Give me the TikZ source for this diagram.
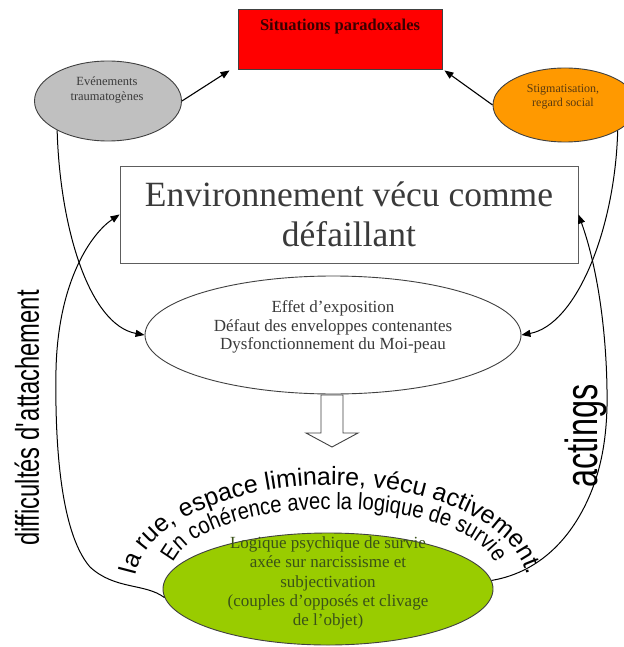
\documentclass[tikz,border=0pt]{standalone}
\usepackage{fontspec}
\setmainfont{Liberation Serif}
\newfontfamily\wafont{Liberation Sans}
\newfontfamily\wacond[FakeStretch=0.86]{Liberation Sans}
\newfontfamily\wanarrow[FakeStretch=0.72]{Liberation Sans}
\usetikzlibrary{shapes.geometric,arrows.meta,decorations.text,calc}
\definecolor{boxred}{HTML}{FF0000}
\definecolor{ellgray}{HTML}{C0C0C0}
\definecolor{ellorange}{HTML}{FF9900}
\definecolor{ellgreen}{HTML}{99CC00}
\definecolor{edge}{HTML}{404040}
\definecolor{txtgray}{HTML}{3A3A3A}
\definecolor{txtbrown}{HTML}{5A3A10}
\definecolor{txtgreen}{HTML}{3A5218}
\definecolor{txtred}{HTML}{3A0000}
\begin{document}
\begin{tikzpicture}[x=1pt,y=-1pt,
  shapeline/.style={draw=edge, line width=0.9pt},
  ell/.style={ellipse, shapeline, inner sep=0pt},
  arr/.style={-{Triangle[length=9pt,width=7pt]}, line width=1.1pt, black},
  curv/.style={-{Triangle[length=9pt,width=7pt]}, line width=1pt, black},
  serif/.style={align=center, inner sep=0pt},
]
\useasboundingbox (0,0) rectangle (623,647);

% top red box
\node[rectangle, shapeline, fill=boxred, minimum width=204pt, minimum height=60pt, inner sep=0pt] (sit) at (340,39) {};
\node[serif, text=txtred, font=\fontsize{16.5}{18}\selectfont\bfseries] (sittxt) at (340,27) {Situations paradoxales};

% gray ellipse
\node[ell, fill=ellgray, minimum width=147pt, minimum height=80pt] (ev) at (108,101) {};
\node[serif, text=txtgray, font=\fontsize{12.5}{14.5}\selectfont] (evtxt) at (107,90) {Evénements\\traumatogènes};

% orange ellipse
\node[ell, fill=ellorange, minimum width=144pt, minimum height=74pt] (st) at (565,105) {};
\node[serif, text=txtbrown, font=\fontsize{12}{14.5}\selectfont] (sttxt) at (563,97) {Stigmatisation,\\regard social};

% arrows to red box
\draw[arr] (ev.east) -- ([xshift=-8pt,yshift=-1pt]sit.south west);
\draw[arr] (st.west) -- ([xshift=2pt,yshift=-1pt]sit.south east);

% environment box
\node[rectangle, draw=edge!85, line width=0.9pt, fill=white, minimum width=458pt, minimum height=97pt, inner sep=0pt] (env) at (349,214.5) {};
\node[serif, text=txtgray, font=\fontsize{35.5}{40}\selectfont] (envtxt) at (349,214) {Environnement vécu comme\\défaillant};

% middle ellipse
\node[ell, fill=white, minimum width=376pt, minimum height=118pt] (mid) at (333,335) {};
\node[serif, text=txtgray, font=\fontsize{17}{18.5}\selectfont] (midtxt) at (333,327) {Effet d’exposition\\Défaut des enveloppes contenantes\\Dysfonctionnement du Moi-peau};

% green ellipse
\node[ell, fill=ellgreen, minimum width=330pt, minimum height=112pt] (gr) at (328,589) {};
\node[serif, text=txtgreen, font=\fontsize{17}{19.2}\selectfont] (grtxt) at (328,583) {Logique psychique de survie\\axée sur narcissisme et\\subjectivation\\(couples d’opposés et clivage\\de l’objet)};

% curved connectors into the middle ellipse
\draw[curv] (ev.210) .. controls (60,230) and (90,325) .. (mid.west);
\draw[curv] (st.334) .. controls (615,230) and (576,325) .. (mid.east);

% big loops from green ellipse to environment box
\draw[curv] (gr.183) .. controls (145,583) and (115,590) .. (90,567)
  .. controls (58,530) and (55,430) .. (56,370)
  .. controls (58,280) and (92,233) .. (env.west);
\draw[curv] (gr.3) .. controls (530,574) and (560,550) .. (580,515)
  .. controls (600,480) and (608,440) .. (607,390)
  .. controls (606,320) and (595,260) .. (env.east);

% hollow block arrow
\coordinate (ha) at (332,395);
\draw[draw=edge, line width=0.9pt, fill=white]
  ($(ha)+(-11,0)$) -- ($(ha)+(11,0)$) -- ($(ha)+(11,38)$) -- ($(ha)+(26,38)$)
  -- ($(ha)+(0,52)$) -- ($(ha)+(-26,38)$) -- ($(ha)+(-11,38)$) -- cycle;

% curved WordArt texts
\path[decorate, decoration={text along path, text align=center,
  text={|\wafont\fontsize{25}{25}\selectfont|la rue, espace liminaire, vécu activement.}}]
  ($(331,586)+(179:197pt and 101pt)$) arc[start angle=179, end angle=1, x radius=197pt, y radius=101pt];
\path[decorate, decoration={text along path, text align=center,
  text={|\wacond\fontsize{23.5}{23.5}\selectfont|En cohérence avec la logique de survie}}]
  ($(334,573)+(179:163pt and 64pt)$) arc[start angle=179, end angle=1, x radius=163pt, y radius=64pt];

% rotated labels
\node[rotate=90, inner sep=0pt, font=\wanarrow\fontsize{33}{33}\selectfont] (diff) at (27,418) {difficultés d\textquotesingle attachement};
\node[rotate=90, inner sep=0pt, font=\wanarrow\fontsize{45}{45}\selectfont] (act) at (586,436) {actings};
\end{tikzpicture}
\end{document}
